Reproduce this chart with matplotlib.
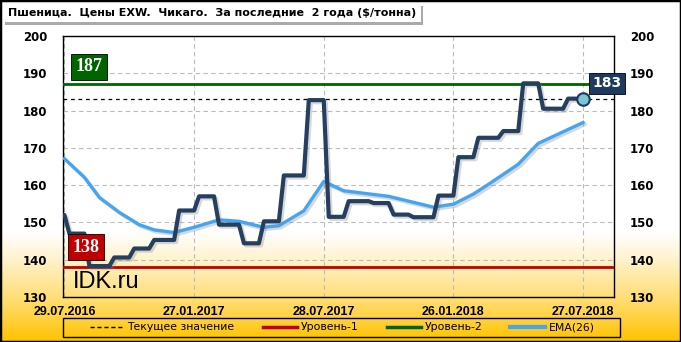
import numpy as np
import pandas as pd
import matplotlib
matplotlib.use('Agg')
import matplotlib.pyplot as plt
import matplotlib.patheffects as pe
from matplotlib.colors import LinearSegmentedColormap
from matplotlib.lines import Line2D
from matplotlib.patches import Rectangle

title = 'Пшеница.  Цены EXW.  Чикаго.  За последние  2 года ($/тонна)'
start_date = '2016-07-29'

# weekly price, $/t
price = [152.0,
         147.0, 147.0, 147.0, 147.0,
         138.3, 138.3, 138.3, 138.3, 138.3,
         140.6, 140.6, 140.6, 140.6,
         143.0, 143.0, 143.0, 143.0,
         145.3, 145.3, 145.3, 145.3, 145.3,
         153.2, 153.2, 153.2, 153.2,
         157.0, 157.0, 157.0, 157.0,
         149.4, 149.4, 149.4, 149.4, 149.4,
         144.4, 144.4, 144.4, 144.4,
         150.3, 150.3, 150.3, 150.3,
         162.6, 162.6, 162.6, 162.6, 162.6,
         182.8, 182.8, 182.8, 182.8,
         151.5, 151.5, 151.5, 151.5,
         155.7, 155.7, 155.7, 155.7, 155.7,
         155.2, 155.2, 155.2, 155.2,
         152.1, 152.1, 152.1, 152.1,
         151.4, 151.4, 151.4, 151.4, 151.4,
         157.2, 157.2, 157.2, 157.2,
         167.5, 167.5, 167.5, 167.5,
         172.7, 172.7, 172.7, 172.7, 172.7,
         174.5, 174.5, 174.5, 174.5,
         187.3, 187.3, 187.3, 187.3,
         180.5, 180.5, 180.5, 180.5, 180.5,
         183.2, 183.2, 183.2, 183.2]

# EMA(26) read at selected weeks
ema_weeks = [0, 4, 7, 11, 15, 18, 22, 26, 31, 35, 40, 43, 48, 52, 56,
             65, 74, 78, 82, 85, 91, 95, 104]
ema_values = [167.1, 162.1, 156.7, 152.7, 149.4, 148.0, 147.3, 148.7, 150.7,
              150.3, 148.7, 149.1, 153.1, 161.0, 158.5, 157.0, 154.1, 154.9,
              157.6, 160.2, 165.6, 171.2, 176.8]

level_1 = 138
level_2 = 187
tick_weeks = [0, 26, 52, 78, 104]
y_ticks = [130, 140, 150, 160, 170, 180, 190, 200]

dates = pd.date_range(start_date, periods=len(price), freq='7D')
current = price[-1]

fig = plt.figure(figsize=(6.81, 3.42), dpi=100)

# background gradient
bg = fig.add_axes([0, 0, 1, 1], zorder=-10)
cmap = LinearSegmentedColormap.from_list(
    'bg', [(0, 'white'), (0.68, 'white'), (0.76, '#FFF2CC'),
           (0.88, '#FFDD70'), (1, '#FFC300')])
bg.imshow(np.linspace(0, 1, 342)[:, None], aspect='auto', cmap=cmap,
          extent=[0, 1, 0, 1], origin='upper')
bg.axis('off')

ax = fig.add_axes([63 / 681, 45 / 342, 551 / 681, 261 / 342])
ax.set_facecolor('none')

shadow = [pe.SimpleLineShadow(offset=(1.5, -1.5), shadow_color='gray', alpha=0.3),
          pe.Normal()]

ax.axhline(level_1, color='#C00000', lw=2, zorder=3)
ax.axhline(level_2, color='#006400', lw=2, zorder=3)
ax.axhline(current, color='black', lw=0.9, ls=(0, (3, 3)), zorder=3)
ax.plot(dates[ema_weeks], ema_values, color='#45A5F5', lw=2.4,
        path_effects=shadow, solid_joinstyle='round', zorder=4)
ax.plot(dates, price, color='#243F60', lw=3, path_effects=shadow,
        solid_joinstyle='round', solid_capstyle='round', zorder=5)
ax.plot(dates[-1:], price[-1:], 'o', ms=9, mfc='#7CC4D6', mec='#1F3A5F',
        mew=1.5, zorder=6)

ax.set_ylim(130, 200)
ax.set_yticks(y_ticks)
ax.set_xlim(dates[0] - pd.Timedelta(days=2), dates[0] + pd.Timedelta(days=7 * 110.2))
ax.set_xticks(dates[tick_weeks])
ax.set_xticklabels([d.strftime('%d.%m.%Y') for d in dates[tick_weeks]])
ax.tick_params(axis='y', left=False, right=False, labelleft=True,
               labelright=True, pad=8, labelsize=8.5)
ax.tick_params(axis='x', bottom=False, pad=3)
for lab in ax.get_xticklabels():
    lab.set_fontweight('bold')
    lab.set_family('Liberation Sans')
    lab.set_fontsize(9)
for t in ax.yaxis.get_major_ticks():
    t.label1.set_fontweight('bold')
    t.label2.set_fontweight('bold')
ax.grid(True, color='#BBBBBB', ls=(0, (4, 3)), lw=0.8)
for sp in ax.spines.values():
    sp.set_color('black')
    sp.set_linewidth(1)

# level labels
ytr = ax.get_yaxis_transform()


def boxed_label(x, y, text, face, family, size):
    ax.text(x, y, text, transform=ytr, ha='center', va='center',
            fontsize=size, fontweight='bold', family=family, color='white',
            bbox=dict(boxstyle='square,pad=0.25', fc=face, ec='black', lw=0.6),
            clip_on=False, zorder=8)


boxed_label(0.047, 191.8, str(level_2), '#006400', 'Liberation Serif', 13)
boxed_label(0.042, 143.3, str(level_1), '#C00000', 'Liberation Serif', 13)
boxed_label(0.988, 187.3, f'{current:.0f}', '#1F3A5F', 'DejaVu Sans', 10)

ax.text(0.018, 0.034, 'IDK.ru', transform=ax.transAxes, family='Liberation Sans',
        fontsize=17, va='baseline', ha='left', zorder=7)

# legend
handles = [Line2D([], [], color='black', lw=1, ls=(0, (3, 2))),
           Line2D([], [], color='#C00000', lw=2.5),
           Line2D([], [], color='#006400', lw=2.5),
           Line2D([], [], color='#45A5F5', lw=3)]
labels = ['Текущее значение', 'Уровень-1', 'Уровень-2', 'EMA(26)']
fig.add_artist(Rectangle((63 / 681, 5 / 342), 557 / 681, 19 / 342,
                         transform=fig.transFigure, fill=False, ec='black', lw=1))
fig.legend(handles, labels, ncol=4, loc='center',
           bbox_to_anchor=(342 / 681, 14.5 / 342), frameon=False,
           fontsize=7.8, handlelength=3.2, handletextpad=0.3,
           columnspacing=2.6, borderpad=0)

# title box
fig.add_artist(Rectangle((5 / 681, 1 - 25 / 342), 418 / 681, 19 / 342,
                         transform=fig.transFigure, fc='#AAAAAA', ec='none'))
fig.add_artist(Rectangle((3 / 681, 1 - 22 / 342), 418 / 681, 19 / 342,
                         transform=fig.transFigure, fc='white', ec='none'))
fig.text(8 / 681, 1 - 12.5 / 342, title, fontsize=8, fontweight='bold',
         va='center', ha='left')

fig.add_artist(Rectangle((0, 0), 1, 1, transform=fig.transFigure, fill=False,
                         ec='black', lw=2.5, zorder=100))

fig.savefig('out.png', dpi=100)
